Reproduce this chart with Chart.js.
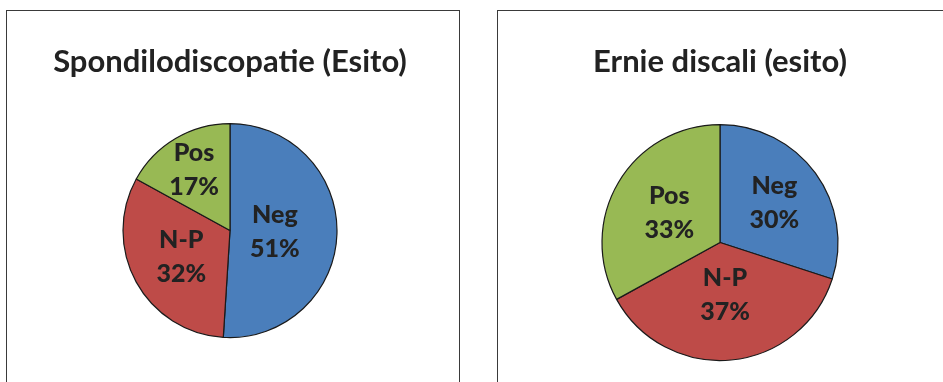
<!DOCTYPE html>
<html lang="it">
<head>
    <meta charset="UTF-8">
    <title>Esito</title>
    <style>
        body {
            margin: 0;
            background-color: #fff;
            width: 943px;
            height: 382px;
            overflow: hidden;
            position: relative;
        }
        .panel {
            position: absolute;
            top: 10px;
            height: 400px;
            border: 1.5px solid #3a3a3a;
            box-sizing: border-box;
        }
        .panel canvas {
            position: absolute;
            left: 0;
            top: 0;
        }
    </style>
</head>
<body>
    <div class="panel" style="left:6px; width:454px;">
        <canvas id="chart1" width="452" height="371"></canvas>
    </div>
    <div class="panel" style="left:497px; width:460px;">
        <canvas id="chart2" width="446" height="371"></canvas>
    </div>

    <script src="https://cdn.jsdelivr.net/npm/chart.js"></script>
    <script>
      const categories = ['Neg', 'N-P', 'Pos'];
      const spondiloValues = [51, 32, 17];
      const ernieValues = [30, 37, 33];
      const sliceColors = ['#4A7EBB', '#BE4B48', '#98B954'];

      // draws "Name\nxx%" inside each slice, at a fraction of the radius
      const sliceLabels = {
          id: 'sliceLabels',
          afterDatasetsDraw(chart, args, opts) {
              const ctx = chart.ctx;
              const meta = chart.getDatasetMeta(0);
              const data = chart.data.datasets[0].data;
              const total = data.reduce((a, b) => a + b, 0);
              ctx.save();
              ctx.font = '900 25px Lato, "Open Sans", sans-serif';
              ctx.fillStyle = '#222';
              ctx.textAlign = 'center';
              ctx.textBaseline = 'middle';
              meta.data.forEach((arc, i) => {
                  const p = arc.getProps(['x', 'y', 'startAngle', 'endAngle', 'outerRadius'], true);
                  const mid = (p.startAngle + p.endAngle) / 2;
                  const r = p.outerRadius * opts.dist[i];
                  const cx = p.x + Math.cos(mid) * r;
                  const cy = p.y + Math.sin(mid) * r;
                  const pct = Math.round(data[i] / total * 100) + '%';
                  ctx.fillText(chart.data.labels[i], cx, cy - 17);
                  ctx.fillText(pct, cx, cy + 17);
              });
              ctx.restore();
          }
      };

      function createPie(id, title, values, radius, titleBottom, padRight, dist) {
          new Chart(document.getElementById(id), {
              type: 'pie',
              data: {
                  labels: categories,
                  datasets: [{
                      data: values,
                      backgroundColor: sliceColors,
                      borderColor: '#1a1a1a',
                      borderWidth: 1.2
                  }]
              },
              options: {
                  responsive: false,
                  animation: false,
                  radius: radius,
                  layout: { padding: { right: padRight, bottom: 0 } },
                  plugins: {
                      legend: { display: false },
                      tooltip: { enabled: false },
                      title: {
                          display: true,
                          text: title,
                          color: '#222',
                          font: { family: 'Lato, "Open Sans", sans-serif', size: 31, weight: 'bold', lineHeight: 1.1 },
                          padding: { top: 34, bottom: titleBottom }
                      },
                      sliceLabels: { dist: dist }
                  }
              },
              plugins: [sliceLabels]
          });
      }

      createPie('chart1', 'Spondilodiscopatie (Esito)', spondiloValues, 107, 0, 6, [0.42, 0.52, 0.66]);
      createPie('chart2', 'Ernie discali (esito)', ernieValues, 118, 24, 2, [0.57, 0.45, 0.5]);
    </script>
</body>
</html>
